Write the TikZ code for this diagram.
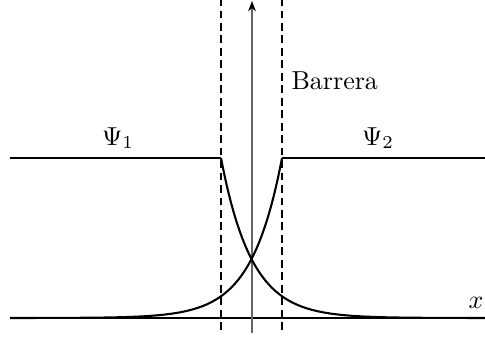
\documentclass[tikz,border=0pt]{standalone}
\usetikzlibrary{arrows.meta}
\begin{document}
\begin{tikzpicture}[x=0.385pt,y=0.385pt,
  axis/.style={line width=0.4pt},
  vaxis/.style={line width=0.4pt,draw=black!60},
  wave/.style={line width=0.8pt},
  barrier/.style={line width=0.4pt,dash pattern=on 3pt off 1.8pt},
  lbl/.style={inner sep=0pt}]
\useasboundingbox (0,0) rectangle (485,340);
% coordinates
\coordinate (xs) at (10,22);
\coordinate (xe) at (485,22);
\coordinate (ys) at (252,7);
\coordinate (ye) at (252,339);
\coordinate (bl) at (221,10);
\coordinate (blt) at (221,340);
\coordinate (br) at (282,10);
\coordinate (brt) at (282,340);
\coordinate (l0) at (10,182);
\coordinate (l1) at (221,182);
\coordinate (r0) at (282,182);
\coordinate (r1) at (485,182);
% axes
\draw[axis] (xs) -- (xe);
\draw[vaxis,-{Stealth[length=4pt,width=3pt,fill=black,color=black]}] (ys) -- (ye);
% barrier
\draw[barrier] (bl) -- (blt);
\draw[barrier] (br) -- (brt);
% waves
\draw[wave] (l0) -- (l1);
\draw[wave] (r0) -- (r1);
\draw[wave] plot[domain=221:485,samples=120,smooth] (\x,{22+160*exp(-0.0327*(\x-221))});
\draw[wave] plot[domain=10:282,samples=120,smooth] (\x,{22+160*exp(-0.0327*(282-\x))});
% labels
\node[lbl,anchor=base west] (bar) at (291,250.7) {Barrera};
\node[lbl,anchor=base] (p1) at (118,195) {$\Psi_1$};
\node[lbl,anchor=base] (p2) at (378,195) {$\Psi_2$};
\node[lbl,anchor=base] (xl) at (476,32) {$x$};
\end{tikzpicture}
\end{document}
